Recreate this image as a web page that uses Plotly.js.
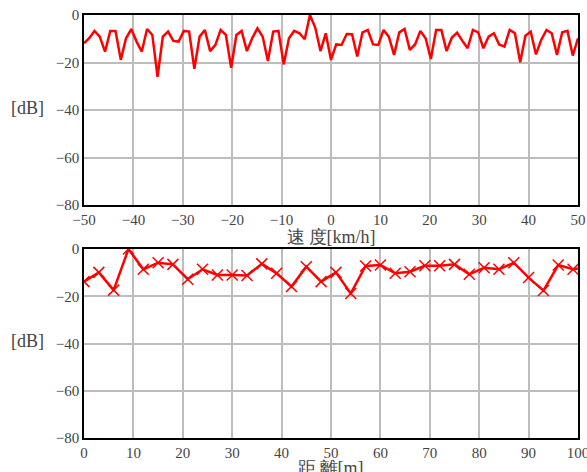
<!DOCTYPE html>
<html>
<head>
<meta charset="utf-8">
<script src="https://cdn.plot.ly/plotly-3.0.1.min.js"></script>
<style>.modebar-container,.modebar{display:none !important;}</style>
</head>
<body style="margin:0">
<div id="chart" style="width:587px;height:472px"></div>
<script>
// Speed spectrum (top)
const speedKmh = [-50.00,-48.94,-47.87,-46.81,-45.74,-44.68,-43.62,-42.55,-41.49,-40.43,
  -39.36,-38.30,-37.23,-36.17,-35.11,-34.04,-32.98,-31.91,-30.85,-29.79,
  -28.72,-27.66,-26.60,-25.53,-24.47,-23.40,-22.34,-21.28,-20.21,-19.15,
  -18.09,-17.02,-15.96,-14.89,-13.83,-12.77,-11.70,-10.64,-9.57,-8.51,
  -7.45,-6.38,-5.32,-4.26,-3.19,-2.13,-1.06,0.00,1.06,2.13,
  3.19,4.26,5.32,6.38,7.45,8.51,9.57,10.64,11.70,12.77,
  13.83,14.89,15.96,17.02,18.09,19.15,20.21,21.28,22.34,23.40,
  24.47,25.53,26.60,27.66,28.72,29.79,30.85,31.91,32.98,34.04,
  35.11,36.17,37.23,38.30,39.36,40.43,41.49,42.55,43.62,44.68,
  45.74,46.81,47.87,48.94,50.00];
const speedDb = [-11.9,-9.8,-6.7,-9.1,-15.4,-6.7,-6.7,-18.9,-9.8,-5.9,
  -11.2,-15.4,-5.9,-8.4,-26.0,-9.1,-7.0,-10.9,-11.2,-6.7,
  -7.0,-22.7,-9.1,-6.3,-15.2,-12.6,-6.3,-8.4,-22.2,-8.4,
  -6.7,-15.2,-9.8,-5.6,-9.1,-19.4,-7.0,-6.7,-20.8,-9.8,
  -6.7,-7.7,-10.2,0,-5.3,-15.2,-7.7,-18.9,-12.4,-12.6,
  -8.0,-8.1,-17.5,-7.3,-6.3,-12.4,-12.6,-6.3,-9.1,-16.8,
  -7.3,-5.9,-14.7,-12.4,-6.7,-9.8,-18.5,-6.3,-6.3,-15.2,
  -9.5,-7.4,-10.9,-14.0,-6.3,-7.3,-14.0,-9.1,-7.7,-12.4,
  -13.3,-6.3,-7.7,-19.9,-8.7,-7.0,-16.6,-10.5,-6.3,-7.7,
  -16.8,-7.3,-6.7,-17.1,-9.8];

// Distance profile (bottom)
const distanceM = [0,3,6,9,12,15,18,21,24,27,30,33,36,39,42,45,48,51,54,57,
  60,63,66,69,72,75,78,81,84,87,90,93,96,99,102];
const distanceDb = [-13.8,-9.9,-17.4,0,-8.6,-5.8,-6.5,-12.8,-8.6,-11.0,
  -11.0,-11.2,-6.3,-10.3,-15.9,-7.5,-13.8,-9.9,-18.8,-7.2,
  -6.8,-10.3,-9.6,-7.1,-7.1,-6.5,-10.7,-7.9,-8.6,-5.8,
  -12.1,-17.6,-6.8,-8.6,-7.5];

const speedTicks = [-50,-40,-30,-20,-10,0,10,20,30,40,50];
const distTicks = [0,10,20,30,40,50,60,70,80,90,100];
const dbTicks = [0,-20,-40,-60,-80];

const serif = "Liberation Serif";

const traces = [
  {x: speedKmh, y: speedDb, type: 'scatter', mode: 'lines',
   line: {color: '#ff0000', width: 2.5}, xaxis: 'x', yaxis: 'y'},
  {x: distanceM, y: distanceDb, type: 'scatter', mode: 'lines+markers',
   line: {color: '#ff0000', width: 2.5},
   marker: {symbol: 'x-thin-open', size: 11, color: '#ff0000', line: {color: '#ff0000', width: 1.5}},
   xaxis: 'x2', yaxis: 'y2'}
];

function ax(extra) {
  return Object.assign({
    showgrid: true, gridcolor: '#bdbdbd', gridwidth: 1.5,
    showline: true, linecolor: '#000', linewidth: 1.5, mirror: true,
    ticks: '', zeroline: false, fixedrange: true,
    tickfont: {family: serif, size: 15},
    ticklabeloverflow: 'allow'
  }, extra);
}

const layout = {
  width: 587, height: 472,
  margin: {l: 84, r: 9, t: 15, b: 34},
  showlegend: false,
  xaxis: ax({domain: [0, 1], range: [-50, 50], tickvals: speedTicks, anchor: 'y'}),
  yaxis: ax({domain: [0.5508, 1], range: [-80, 0], tickvals: dbTicks, anchor: 'x'}),
  xaxis2: ax({domain: [0, 1], range: [0, 100], tickvals: distTicks, anchor: 'y2'}),
  yaxis2: ax({domain: [0, 0.4468], range: [-80, 0], tickvals: dbTicks, anchor: 'x2'}),
  annotations: [
    {text: '[dB]', xref: 'paper', yref: 'paper', x: -0.115, y: 0.780, showarrow: false,
     xanchor: 'center', yanchor: 'middle', font: {family: serif, size: 18}},
    {text: '[dB]', xref: 'paper', yref: 'paper', x: -0.115, y: 0.229, showarrow: false,
     xanchor: 'center', yanchor: 'middle', font: {family: serif, size: 18}},
    {text: '速\u2009度[km/h]', xref: 'paper', yref: 'paper', x: 0.5, y: 0.476, showarrow: false,
     xanchor: 'center', yanchor: 'middle', font: {family: serif, size: 18}},
    {text: '距\u2009離[m]', xref: 'paper', yref: 'paper', x: 0.5, y: -0.071, showarrow: false,
     xanchor: 'center', yanchor: 'middle', font: {family: serif, size: 18}}
  ]
};

Plotly.newPlot('chart', traces, layout);
</script>
</body>
</html>
